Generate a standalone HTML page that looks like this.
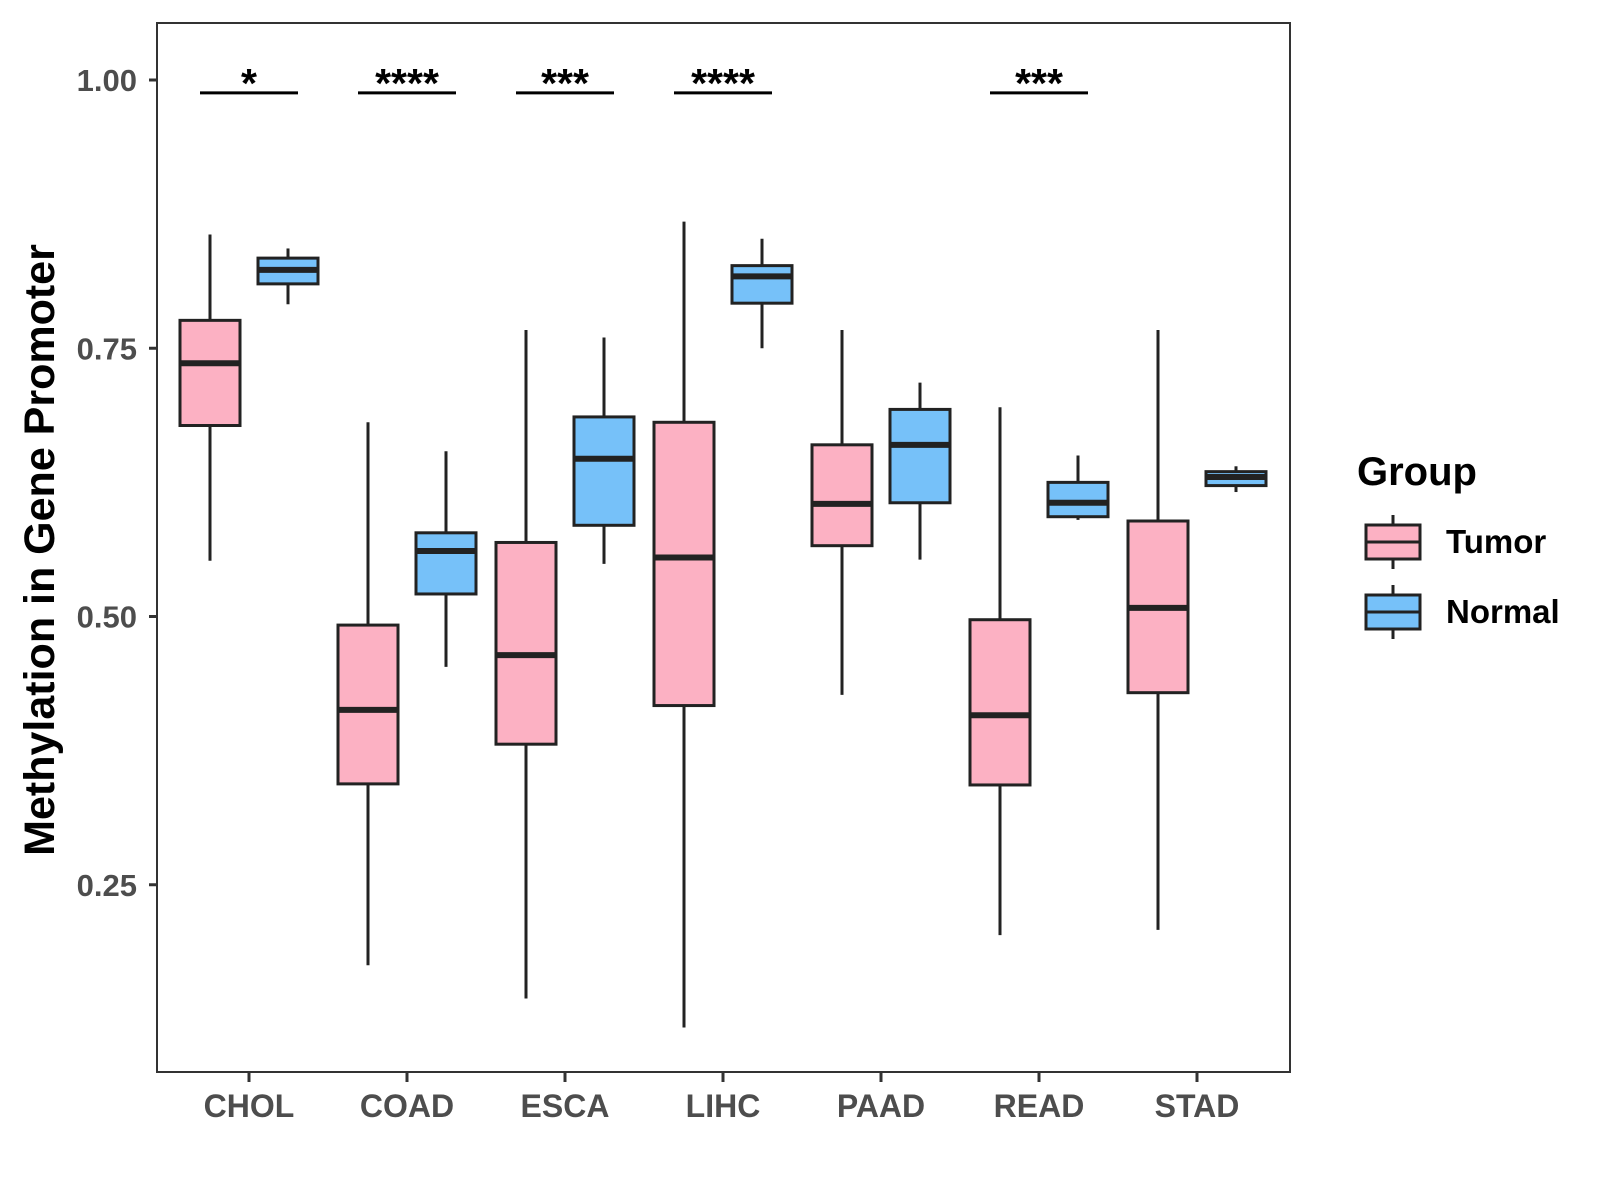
<!DOCTYPE html>
<html><head><meta charset="utf-8"><style>body{margin:0;background:#fff}svg{display:block}</style></head>
<body>
<svg id="c" width="1600" height="1200" xmlns="http://www.w3.org/2000/svg" font-family="Liberation Sans, sans-serif"></svg>
<script>
const categories=["CHOL","COAD","ESCA","LIHC","PAAD","READ","STAD"];
// [lowWhisker, q1, median, q3, highWhisker]
const tumorStats=[[0.552,0.678,0.736,0.776,0.856],[0.175,0.344,0.413,0.492,0.681],[0.144,0.381,0.464,0.569,0.767],[0.117,0.417,0.555,0.681,0.868],[0.427,0.566,0.605,0.660,0.767],[0.203,0.343,0.408,0.497,0.695],[0.208,0.429,0.508,0.589,0.767]];
const normalStats=[[0.791,0.810,0.823,0.834,0.843],[0.453,0.521,0.561,0.578,0.654],[0.549,0.585,0.647,0.686,0.760],[0.750,0.792,0.817,0.827,0.852],[0.553,0.606,0.660,0.693,0.718],[0.590,0.593,0.606,0.625,0.650],[0.616,0.622,0.630,0.635,0.640]];
const sigLabels=["*","****","***","****","","***",""];
const yTicks=[0.25,0.5,0.75,1.0];
const yTickLabels=["0.25","0.50","0.75","1.00"];
const svg=document.getElementById('c');const NS="http://www.w3.org/2000/svg";
const L=157,R=1290,T=23,B=1072;
const y=v=>80+(1-v)*1073;
const x=i=>249+i*158;
function el(t,a,p){const e=document.createElementNS(NS,t);for(const k in a)e.setAttribute(k,a[k]);(p||svg).appendChild(e);return e;}
const panel=el('rect',{x:L,y:T,width:R-L,height:B-T,fill:'#fff',stroke:'#333','stroke-width':2});


yTicks.forEach((v,i)=>{
  const t=el('line',{x1:L-8,x2:L,y1:y(v),y2:y(v),stroke:'#333','stroke-width':3});
  
  
  const tx=el('text',{x:L-20,y:y(v)+11,'text-anchor':'end','font-size':31,'font-weight':'bold',fill:'#4d4d4d'});
  tx.textContent=yTickLabels[i];
  
  
});
categories.forEach((c,i)=>{
  const t=el('line',{x1:x(i),x2:x(i),y1:B,y2:B+10,stroke:'#333','stroke-width':3});
  
  
  const tx=el('text',{x:x(i),y:B+45,'text-anchor':'middle','font-size':32,'font-weight':'bold',fill:'#4d4d4d'});
  tx.textContent=c;
  
  
});
function box(cx,s,fill,name){
  const g=el('g',{});
  
  
  el('line',{x1:cx,x2:cx,y1:y(s[0]),y2:y(s[4]),stroke:'#222','stroke-width':3},g);
  el('rect',{x:cx-30,y:y(s[3]),width:60,height:y(s[1])-y(s[3]),fill:fill,stroke:'#222','stroke-width':3},g);
  el('line',{x1:cx-30,x2:cx+30,y1:y(s[2]),y2:y(s[2]),stroke:'#222','stroke-width':6},g);
}
categories.forEach((c,i)=>{
  box(x(i)-39,tumorStats[i],'#fcb1c3','box-tumor-'+c.toLowerCase());
  box(x(i)+39,normalStats[i],'#76c1f9','box-normal-'+c.toLowerCase());
  if(sigLabels[i]){
    const l=el('line',{x1:x(i)-49,x2:x(i)+49,y1:y(0.988),y2:y(0.988),stroke:'#000','stroke-width':3});
    
    
    const t=el('text',{x:x(i),y:y(0.988)+4,'text-anchor':'middle','font-size':41,'font-weight':'bold',fill:'#000'});
    t.textContent=sigLabels[i];
    
    
  }
});
const yt=el('text',{x:0,y:0,transform:'translate(54,550) rotate(-90)','text-anchor':'middle','font-size':43,'font-weight':'bold',fill:'#000'});
yt.textContent='Methylation in Gene Promoter';


const lt=el('text',{x:1357,y:485,'font-size':40,'font-weight':'bold',fill:'#000'});
lt.textContent='Group';


[['Tumor','#fcb1c3',542],['Normal','#76c1f9',612]].forEach(([n,f,cy])=>{
  const g=el('g',{});
  
  
  el('line',{x1:1393,x2:1393,y1:cy-27,y2:cy+27,stroke:'#222','stroke-width':3},g);
  el('rect',{x:1366,y:cy-17,width:54,height:34,fill:f,stroke:'#222','stroke-width':3},g);
  el('line',{x1:1366,x2:1420,y1:cy,y2:cy,stroke:'#222','stroke-width':3},g);
  const t=el('text',{x:1446,y:cy+11,'font-size':33,'font-weight':'bold',fill:'#000'},g);
  t.textContent=n;
});
</script>
</body></html>
